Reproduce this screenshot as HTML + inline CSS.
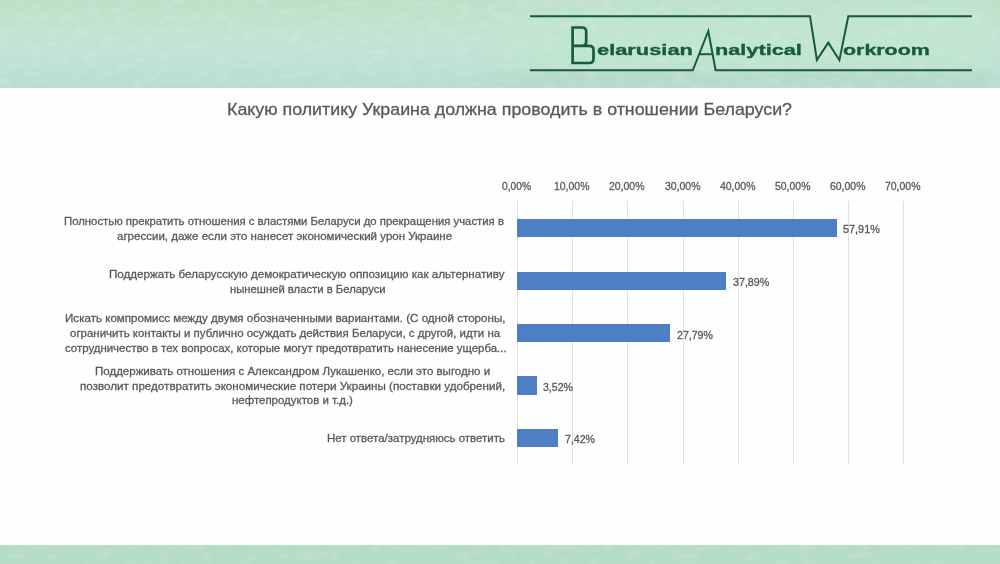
<!DOCTYPE html>
<html>
<head>
<meta charset="utf-8">
<style>
html,body{margin:0;padding:0;}
body{width:1000px;height:564px;position:relative;overflow:hidden;background:#fefefe;font-family:"Liberation Sans",sans-serif;}
#top{position:absolute;left:0;top:0;width:1000px;height:88.4px;background:linear-gradient(180deg,#bde0c6 0%,#c0e2cb 18%,#c3e4d2 42%,#c0e2d5 66%,#badfd5 88%,#b9ddd3 100%);}
#logobg{position:absolute;left:470px;top:0;width:530px;height:88.4px;background:linear-gradient(180deg,#bee1c8 0%,#c0e4cd 20%,#c1e5d0 50%,#bde3ce 76%,#b6dbc8 86%,#b8dbcb 100%);-webkit-mask-image:linear-gradient(90deg,transparent 0,#000 60px,#000 515px,transparent 530px);}
#bot{position:absolute;left:0;top:544.6px;width:1000px;height:20px;background:#b5dcc5;}
#logo{position:absolute;left:0;top:0;}
.lt{position:absolute;font-weight:bold;color:#185a3d;font-size:15.5px;line-height:15px;transform-origin:0 0;white-space:nowrap;-webkit-text-stroke:0.35px #185a3d;}
.tx{position:absolute;white-space:nowrap;transform-origin:0 0;-webkit-text-stroke:0.3px #595959;}
.grid{position:absolute;top:200.5px;height:263px;width:1px;background:#e0e0e0;}
.bar{position:absolute;left:517px;height:18.3px;background:#4e7fc2;}
</style>
</head>
<body>
<div id="top"></div>
<div id="logobg"></div>
<svg id="tex" width="1000" height="88" style="position:absolute;left:0;top:0"><filter id="nz" x="0" y="0" width="100%" height="100%"><feTurbulence type="fractalNoise" baseFrequency="0.07 0.14" numOctaves="4" seed="11"/><feColorMatrix type="matrix" values="0 0 0 0 1  0 0 0 0 1  0 0 0 0 1  0 0 0 1.6 -0.75"/></filter><rect width="1000" height="88" filter="url(#nz)" opacity="0.22"/></svg>
<div id="bot"></div>
<svg width="1000" height="20" style="position:absolute;left:0;top:544.6px"><filter id="nz2" x="0" y="0" width="100%" height="100%"><feTurbulence type="fractalNoise" baseFrequency="0.07 0.14" numOctaves="4" seed="5"/><feColorMatrix type="matrix" values="0 0 0 0 1  0 0 0 0 1  0 0 0 0 1  0 0 0 1.6 -0.75"/></filter><rect width="1000" height="20" filter="url(#nz2)" opacity="0.22"/></svg>
<svg id="logo" width="1000" height="88" viewBox="0 0 1000 88">
 <g fill="none" stroke="#185a3d" stroke-width="2" stroke-linejoin="miter">
  <polyline points="530,16.3 810,16.3 816.9,60 828.3,42.6 839.4,60.2 848.3,16.3 972,16.3"/>
  <polyline points="530,70.3 692.8,70.3 708.3,31 715.6,70.3 972,70.3"/>
  <line x1="699.7" y1="54.2" x2="711.9" y2="54.2"/>
  <path stroke-width="2.7" d="M572.6,26.3 V63 H589.3 Q593.5,63 593.5,58.8 V50 Q593.5,45.8 589.3,45.8 H572.6 M572.6,27.5 H582 Q586.2,27.5 586.2,31.7 V41.6 Q586.2,45.8 582,45.8"/>
 </g>
</svg>
<div class="lt" style="left:597.2px;top:41.8px;transform:scaleX(1.409)">elarusian</div>
<div class="lt" style="left:715.2px;top:41.8px;transform:scaleX(1.40)">nalytical</div>
<div class="lt" style="left:843px;top:41.8px;transform:scaleX(1.38)">orkroom</div>

<div class="grid" style="left:517px"></div>
<div class="grid" style="left:572px"></div>
<div class="grid" style="left:627px"></div>
<div class="grid" style="left:683px"></div>
<div class="grid" style="left:738px"></div>
<div class="grid" style="left:793px"></div>
<div class="grid" style="left:848px"></div>
<div class="grid" style="left:903px"></div>

<div class="bar" style="top:219px;width:319.6px"></div>
<div class="bar" style="top:271.7px;width:209.1px"></div>
<div class="bar" style="top:324.2px;width:153.4px"></div>
<div class="bar" style="top:376.3px;width:20px"></div>
<div class="bar" style="top:428.8px;width:41px"></div>
<div id="title" class="tx" style="left:226.98px;top:100.00px;font-size:17px;line-height:20.4px;color:#595959;transform:scaleX(1.0482);">Какую политику Украина должна проводить в отношении Беларуси?</div>
<div id="ax0" class="tx" style="left:502.22px;top:180.00px;font-size:10.8px;line-height:12.96px;color:#595959;transform:scaleX(0.9485);">0,00%</div>
<div id="ax1" class="tx" style="left:553.51px;top:180.00px;font-size:10.8px;line-height:12.96px;color:#595959;transform:scaleX(0.9679);">10,00%</div>
<div id="ax2" class="tx" style="left:609.01px;top:180.00px;font-size:10.8px;line-height:12.96px;color:#595959;transform:scaleX(0.9679);">20,00%</div>
<div id="ax3" class="tx" style="left:664.51px;top:180.00px;font-size:10.8px;line-height:12.96px;color:#595959;transform:scaleX(0.9679);">30,00%</div>
<div id="ax4" class="tx" style="left:719.51px;top:180.00px;font-size:10.8px;line-height:12.96px;color:#595959;transform:scaleX(0.9679);">40,00%</div>
<div id="ax5" class="tx" style="left:775.01px;top:180.00px;font-size:10.8px;line-height:12.96px;color:#595959;transform:scaleX(0.9679);">50,00%</div>
<div id="ax6" class="tx" style="left:830.00px;top:180.00px;font-size:10.8px;line-height:12.96px;color:#595959;transform:scaleX(0.9679);">60,00%</div>
<div id="ax7" class="tx" style="left:885.01px;top:180.00px;font-size:10.8px;line-height:12.96px;color:#595959;transform:scaleX(0.9679);">70,00%</div>
<div id="v1" class="tx" style="left:843.00px;top:223.00px;font-size:10.8px;line-height:12.96px;color:#595959;transform:scaleX(1.0056);">57,91%</div>
<div id="v2" class="tx" style="left:732.50px;top:275.50px;font-size:10.8px;line-height:12.96px;color:#595959;transform:scaleX(0.9892);">37,89%</div>
<div id="v3" class="tx" style="left:677.01px;top:328.50px;font-size:10.8px;line-height:12.96px;color:#595959;transform:scaleX(0.9786);">27,79%</div>
<div id="v4" class="tx" style="left:543.00px;top:380.50px;font-size:10.8px;line-height:12.96px;color:#595959;transform:scaleX(0.9746);">3,52%</div>
<div id="v5" class="tx" style="left:565.01px;top:433.00px;font-size:10.8px;line-height:12.96px;color:#595959;transform:scaleX(0.9807);">7,42%</div>
<div id="l1" class="tx" style="left:64.00px;top:215.41px;font-size:11.4px;line-height:13.68px;color:#595959;transform:scaleX(0.9955);">Полностью прекратить отношения с властями Беларуси до прекращения участия в</div>
<div id="l2" class="tx" style="left:116.50px;top:229.81px;font-size:11.4px;line-height:13.68px;color:#595959;transform:scaleX(1.0115);">агрессии, даже если это нанесет экономический урон Украине</div>
<div id="l3" class="tx" style="left:109.49px;top:267.70px;font-size:11.4px;line-height:13.68px;color:#595959;transform:scaleX(1.0196);">Поддержать беларусскую демократическую оппозицию как альтернативу</div>
<div id="l4" class="tx" style="left:230.00px;top:282.50px;font-size:11.4px;line-height:13.68px;color:#595959;transform:scaleX(0.9911);">нынешней власти в Беларуси</div>
<div id="l5" class="tx" style="left:64.50px;top:311.81px;font-size:11.4px;line-height:13.68px;color:#595959;transform:scaleX(1.0176);">Искать компромисс между двумя обозначенными вариантами. (С одной стороны,</div>
<div id="l6" class="tx" style="left:69.50px;top:327.00px;font-size:11.4px;line-height:13.68px;color:#595959;transform:scaleX(1.0066);">ограничить контакты и публично осуждать действия Беларуси, с другой, идти на</div>
<div id="l7" class="tx" style="left:64.50px;top:341.70px;font-size:11.4px;line-height:13.68px;color:#595959;transform:scaleX(1.0036);">сотрудничество в тех вопросах, которые могут предотвратить нанесение ущерба...</div>
<div id="l8" class="tx" style="left:95.00px;top:365.00px;font-size:11.4px;line-height:13.68px;color:#595959;transform:scaleX(1.0107);">Поддерживать отношения с Александром Лукашенко, если это выгодно и</div>
<div id="l9" class="tx" style="left:80.00px;top:379.70px;font-size:11.4px;line-height:13.68px;color:#595959;transform:scaleX(1.0212);">позволит предотвратить экономические потери Украины (поставки удобрений,</div>
<div id="l10" class="tx" style="left:232.00px;top:394.00px;font-size:11.4px;line-height:13.68px;color:#595959;transform:scaleX(1.0067);">нефтепродуктов и т.д.)</div>
<div id="l11" class="tx" style="left:327.00px;top:431.81px;font-size:11.4px;line-height:13.68px;color:#595959;transform:scaleX(1.0068);">Нет ответа/затрудняюсь ответить</div>
</body>
</html>
